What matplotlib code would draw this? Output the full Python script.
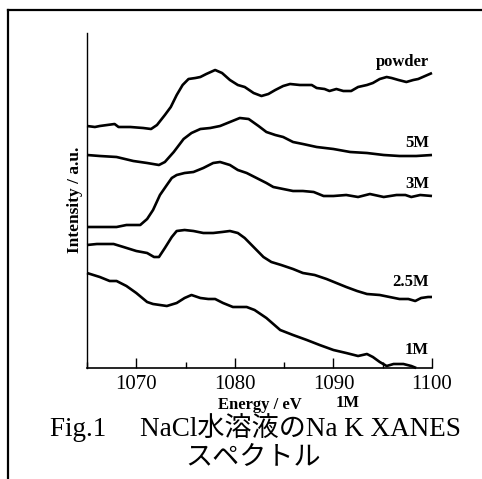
import matplotlib
matplotlib.use("Agg")
import matplotlib.pyplot as plt
from matplotlib.lines import Line2D
from matplotlib.ticker import MultipleLocator

# energy (eV) and intensity (a.u.)
powder_e = [1065.0, 1065.8, 1066.3, 1067.8, 1068.2, 1069.4, 1070.7, 1071.5, 1072.1, 1072.9,
            1073.5, 1074.1, 1074.7, 1075.3, 1076.0, 1076.5, 1077.1, 1078.0, 1078.7, 1079.5,
            1080.3, 1081.0, 1081.9, 1082.7, 1083.4, 1084.1, 1084.9, 1085.6, 1086.6, 1087.8,
            1088.3, 1089.1, 1089.6, 1090.3, 1091.0, 1091.8, 1092.5, 1093.4, 1094.0, 1094.7,
            1095.4, 1095.9, 1096.6, 1097.4, 1098.1, 1098.6, 1099.3, 1100.0]
powder_i = [242, 241, 242, 244, 241, 241, 240, 239, 243, 253,
            261, 273, 283, 289, 290, 291, 294, 298, 295, 288,
            283, 281, 275, 272, 274, 278, 282, 284, 283, 283,
            280, 279, 277, 279, 277, 277, 281, 283, 285, 289,
            291, 290, 288, 286, 288, 289, 292, 295]

m5_e = [1065.0, 1066.3, 1068.0, 1069.7, 1071.1, 1072.3, 1072.9, 1073.8, 1074.8, 1075.6,
        1076.5, 1077.5, 1078.5, 1079.5, 1080.5, 1081.4, 1082.4, 1083.2, 1084.1, 1084.9,
        1085.9, 1086.9, 1088.3, 1090.0, 1091.7, 1093.4, 1095.1, 1096.7, 1098.4, 1100.0]
m5_i = [213, 212, 211, 207, 205, 203, 206, 216, 229, 235,
        239, 240, 242, 246, 250, 249, 242, 236, 233, 231,
        226, 224, 221, 219, 216, 215, 213, 212, 212, 213]

m3_e = [1065.0, 1066.3, 1068.0, 1069.0, 1070.4, 1071.1, 1071.7, 1072.4, 1073.1, 1073.6,
        1074.1, 1074.9, 1075.8, 1076.8, 1077.8, 1078.5, 1079.5, 1080.3, 1081.2, 1082.2,
        1083.2, 1083.9, 1084.9, 1085.9, 1086.9, 1088.0, 1089.0, 1090.0, 1091.3, 1092.5,
        1093.7, 1095.1, 1096.4, 1097.3, 1097.9, 1098.8, 1100.0]
m3_i = [141, 141, 141, 143, 143, 149, 158, 173, 183, 190,
        193, 195, 196, 200, 205, 206, 203, 198, 195, 190,
        185, 181, 179, 177, 177, 176, 172, 172, 173, 171,
        174, 171, 173, 173, 171, 173, 172]

m25_e = [1065.0, 1066.0, 1067.7, 1068.7, 1070.0, 1071.1, 1071.8, 1072.3, 1072.9, 1073.6,
         1074.1, 1074.9, 1075.8, 1076.8, 1077.8, 1078.7, 1079.5, 1080.3, 1081.0, 1081.9,
         1082.9, 1083.7, 1084.7, 1085.9, 1086.9, 1088.1, 1089.3, 1090.3, 1091.3, 1092.4,
         1093.4, 1094.7, 1095.7, 1096.7, 1097.6, 1098.3, 1098.9, 1099.6, 1100.0]
m25_i = [123, 124, 124, 121, 117, 115, 111, 111, 120, 131,
         137, 138, 137, 135, 135, 136, 137, 135, 130, 121,
         111, 106, 103, 99, 95, 93, 89, 85, 81, 77,
         74, 73, 71, 69, 69, 67, 70, 71, 71]

m1_e = [1065.0, 1066.3, 1067.3, 1068.0, 1069.0, 1070.0, 1071.1, 1071.7, 1073.1, 1074.1,
        1074.9, 1075.6, 1076.5, 1077.3, 1078.0, 1078.8, 1079.8, 1081.2, 1082.0, 1083.2,
        1084.6, 1085.9, 1087.3, 1088.6, 1090.0, 1091.3, 1092.5, 1093.4, 1094.0, 1094.7,
        1095.4, 1096.1, 1097.1, 1097.9, 1098.4]
m1_i = [95, 91, 87, 87, 82, 75, 66, 64, 62, 65,
        70, 73, 70, 69, 69, 65, 61, 61, 58, 50,
        38, 33, 28, 23, 18, 15, 12, 14, 11, 6,
        2, 4, 4, 2, 0]

series = [
    (powder_e, powder_i, "powder", 306),
    (m5_e, m5_i, "5M", 225),
    (m3_e, m3_i, "3M", 184),
    (m25_e, m25_i, "2.5M", 86),
    (m1_e, m1_i, "1M", 18),
]

serif = ["Liberation Serif", "DejaVu Serif"]
cap_font = ["Liberation Serif", "Noto Sans CJK JP"]

fig = plt.figure(figsize=(4.82, 4.79), dpi=100)
ax = fig.add_axes([87 / 482, 1 - 368 / 479, 345 / 482, 335 / 479])

for e, i, name, ly in series:
    ax.plot(e, i, color="black", lw=1.9, solid_capstyle="butt", clip_on=False)
    ax.text(1099.7, ly, name, ha="right", va="center", fontsize=12,
            fontweight="bold", family=serif)

ax.set_xlim(1065, 1100)
ax.set_ylim(0, 335)
ax.set_yticks([])
ax.xaxis.set_major_locator(MultipleLocator(10))
ax.xaxis.set_minor_locator(MultipleLocator(5))
ax.tick_params(axis="x", which="major", direction="in", length=7, width=1, pad=5)
ax.tick_params(axis="x", which="minor", direction="in", length=4, width=1)
for lab in ax.get_xticklabels():
    lab.set_family(serif)
    lab.set_fontsize(15)
ax.spines["top"].set_visible(False)
ax.spines["right"].set_visible(False)
ax.spines["left"].set_linewidth(1.0)
ax.spines["bottom"].set_linewidth(1.2)

fig.text(75 / 482, 1 - 200 / 479, "Intensity / a.u.", rotation=90, ha="center", va="center",
         fontsize=12.5, fontweight="bold", family=serif)
fig.text(260 / 482, 1 - 405 / 479, "Energy / eV", ha="center", va="center",
         fontsize=12, fontweight="bold", family=serif)
fig.text(348 / 482, 1 - 403 / 479, "1M", ha="center", va="center",
         fontsize=12, fontweight="bold", family=serif)
fig.text(255 / 482, 1 - 428 / 479, "Fig.1\u3000 NaCl水溶液のNa K XANES", ha="center", va="center",
         fontsize=19.5, family=cap_font)
fig.text(253 / 482, 1 - 458 / 479, "スペクトル", ha="center", va="center",
         fontsize=19.5, family=cap_font)

# frame around the figure (top and left edges)
fig.add_artist(Line2D([8 / 482, 1], [1 - 10 / 479, 1 - 10 / 479], color="black", lw=1.6,
                      transform=fig.transFigure))
fig.add_artist(Line2D([8 / 482, 8 / 482], [0, 1 - 10 / 479], color="black", lw=1.6,
                      transform=fig.transFigure))

fig.savefig("out.png", dpi=100)
